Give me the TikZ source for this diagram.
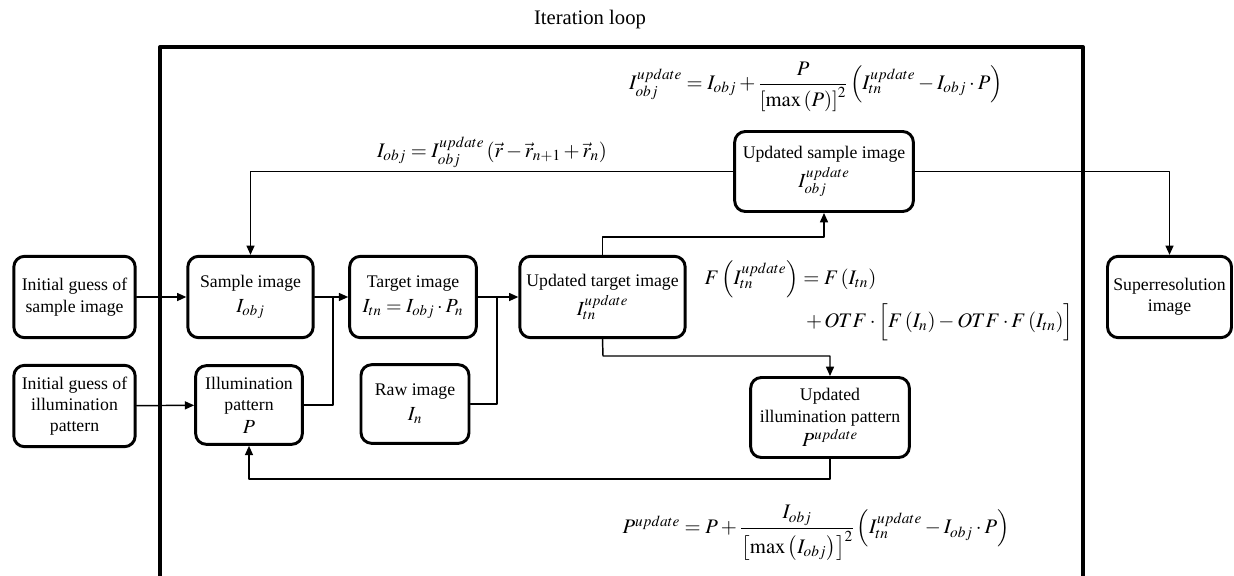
\documentclass[tikz,border=0pt]{standalone}
\usepackage{amsmath}
\usepackage{mathptmx}
\usepackage{fontspec}
\setmainfont{Liberation Serif}
\usetikzlibrary{arrows.meta}

\newcommand\boxmath[1]{{\fontsize{15}{16}\selectfont$#1$}}

\tikzset{
  block/.style={draw, line width=2.2pt, rounded corners=8pt, align=center, inner sep=2pt},
  link/.style={line width=1.1pt},
  formula/.style={font=\fontsize{15.5}{18}\selectfont, inner sep=1pt},
}

\begin{document}
\begin{tikzpicture}[x=0.75pt, y=-0.75pt, font=\fontsize{13.3}{16}\selectfont, line cap=round, line join=round, >={Triangle[length=7pt,width=6pt]}]
\useasboundingbox (0,0) rectangle (1234,575);

% iteration frame
\draw[line width=3pt, line cap=butt] (160,47) rectangle (1083,600);
\node[font=\fontsize{15.5}{18}\selectfont] (looptitle) at (590,20) {Iteration loop};

% blocks
\node[block, minimum width=91pt, minimum height=61pt] (initsmp) at (74.5,297) {Initial guess of\\sample image};
\node[block, minimum width=91pt, minimum height=61pt] (initill) at (74.5,406) {Initial guess of\\illumination\\pattern};
\node[block, minimum width=94pt, minimum height=61pt] (smp) at (250.5,297) {Sample image\\[3pt]\boxmath{I_{obj}}};
\node[block, minimum width=80pt, minimum height=59pt] (ill) at (249,405) {Illumination\\pattern\\[1pt]\boxmath{P}};
\node[block, minimum width=95pt, minimum height=61pt] (tgt) at (413,297) {Target image\\[3pt]\boxmath{I_{tn}=I_{obj}\cdot P_n}};
\node[block, minimum width=81pt, minimum height=59pt] (raw) at (415,404) {Raw image\\[3pt]\boxmath{I_n}};
\node[block, minimum width=124pt, minimum height=61pt] (updtgt) at (602.5,297) {Updated target image\\[3pt]\boxmath{I^{update}_{tn}}};
\node[block, minimum width=119pt, minimum height=60pt] (updill) at (830,417.5) {Updated\\illumination pattern\\[2pt]\boxmath{P^{update}}};
\node[block, minimum width=134pt, minimum height=60pt] (updsmp) at (824,171.5) {Updated sample image\\[3pt]\boxmath{I^{update}_{obj}}};
\node[block, minimum width=93pt, minimum height=61pt] (superres) at (1169.5,297) {Superresolution\\image};

% equations
\node[formula] (eqsmp) at (816,87) {$I^{update}_{obj}=I_{obj}+\dfrac{P}{\left[\max\left(P\right)\right]^{2}}\left(I^{update}_{tn}-I_{obj}\cdot P\right)$};
\node[formula] (eqshift) at (492,152) {$I_{obj}=I^{update}_{obj}\left(\vec{r}-\vec{r}_{n+1}+\vec{r}_n\right)$};
\node[formula, anchor=west] (eqtgt) at (703,279) {$F\left(I^{update}_{tn}\right)=F\left(I_{tn}\right)$};
\node[formula, anchor=east] (eqotf) at (1075,322) {$+\,OTF\cdot\Bigl[F\left(I_n\right)-OTF\cdot F\left(I_{tn}\right)\Bigr]$};
\node[formula] (eqill) at (816,533) {$P^{update}=P+\dfrac{I_{obj}}{\left[\max\left(I_{obj}\right)\right]^{2}}\left(I^{update}_{tn}-I_{obj}\cdot P\right)$};

% junctions and bends
\coordinate (j1) at (333,297);
\coordinate (j2) at (497,297);
\coordinate (k1) at (824,237);
\coordinate (k2) at (603,356);
\coordinate (k3) at (830,479);

% connectors
\draw[link, ->] (initsmp) -- (smp);
\draw[link, ->] (initill) -- (ill);
\draw[link, ->] (smp) -- (tgt);
\draw[link] (ill.east) -| (j1);
\draw[link, ->] (tgt) -- (updtgt);
\draw[link] (raw.east) -| (j2);
\draw[link, ->] (updtgt.north) |- (k1) -- (updsmp.south);
\draw[link, ->] (updtgt.south) -- (k2) -| (updill.north);
\draw[link, ->] (updill.south) -- (k3) -| (ill.south);
\draw[link, ->] (updsmp.west) -| (smp.north);
\draw[link, ->] (updsmp.east) -| (superres.north);
\end{tikzpicture}
\end{document}
